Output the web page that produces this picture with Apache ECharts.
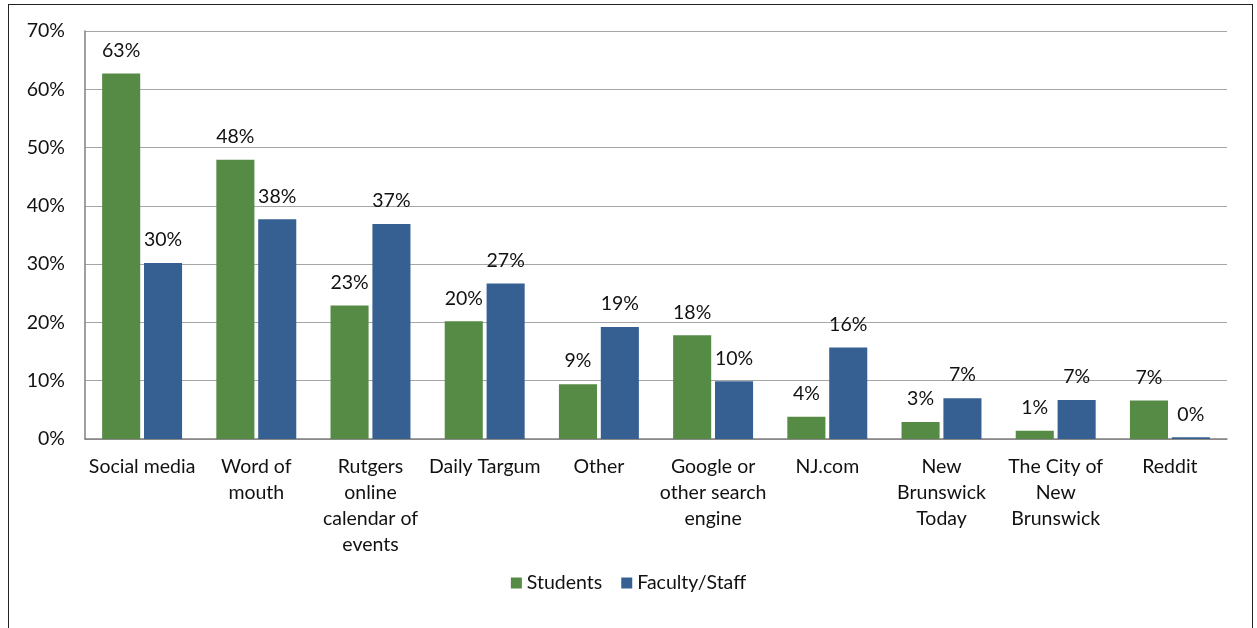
<!DOCTYPE html>
<html>
<head>
<meta charset="utf-8">
<script src="https://cdn.jsdelivr.net/npm/echarts@6/dist/echarts.min.js"></script>
<style>
  html, body { margin: 0; padding: 0; background: #fff; }
  .frame {
    position: absolute;
    left: 8px;
    top: 4px;
    width: 1243px;
    height: 700px;
    border: 1px solid #222;
  }
  #chart {
    position: absolute;
    left: 0;
    top: 0;
    width: 1257px;
    height: 628px;
  }
</style>
</head>
<body>
<div class="frame"></div>
<div id="chart"></div>
<script>
// categories (line breaks as in the original axis labels)
const categories = [
  'Social media',
  'Word of\nmouth',
  'Rutgers\nonline\ncalendar of\nevents',
  'Daily Targum',
  'Other',
  'Google or\nother search\nengine',
  'NJ.com',
  'New\nBrunswick\nToday',
  'The City of\nNew\nBrunswick',
  'Reddit'
]
// percent values
const students = [62.7, 47.9, 22.9, 20.2, 9.4, 17.8, 3.8, 2.9, 1.4, 6.6]
const facultyStaff = [30.2, 37.7, 36.9, 26.7, 19.2, 9.9, 15.7, 7.0, 6.7, 0.3]
const yTicks = { min: 0, max: 70, interval: 10 }

const font = 'Lato, "Liberation Sans", sans-serif'
const fs = 19.5
const myChart = echarts.init(document.getElementById('chart'))

const barLabel = {
  show: true,
  position: 'top',
  distance: 13,
  color: '#111',
  fontFamily: font,
  fontSize: fs,
  formatter: p => Math.round(p.value) + '%'
}

let option = {
  animation: false,
  textStyle: { fontFamily: font },
  grid: {
    left: 85,
    top: 31,
    right: 30,
    bottom: 189,
    containLabel: false
  },
  legend: {
    bottom: 30,
    left: 'center',
    itemWidth: 11,
    itemHeight: 11,
    itemGap: 19,
    icon: 'rect',
    textStyle: { fontFamily: font, fontSize: fs, color: '#111' },
    data: ['Students', 'Faculty/Staff']
  },
  xAxis: {
    type: 'category',
    data: categories,
    axisLine: { lineStyle: { color: '#808080', width: 1.5 } },
    axisTick: { show: false },
    axisLabel: {
      interval: 0,
      margin: 15,
      color: '#111',
      fontFamily: font,
      fontSize: fs,
      lineHeight: 26
    }
  },
  yAxis: {
    type: 'value',
    min: yTicks.min,
    max: yTicks.max,
    interval: yTicks.interval,
    axisLine: { show: true, lineStyle: { color: '#808080', width: 1.5 } },
    axisTick: { show: false },
    splitLine: { lineStyle: { color: '#a6a6a6', width: 1.2 } },
    axisLabel: {
      margin: 20,
      color: '#111',
      fontFamily: font,
      fontSize: fs,
      formatter: v => v + '%'
    }
  },
  series: [
    {
      name: 'Students',
      type: 'bar',
      data: students,
      barGap: '10%',
      barCategoryGap: '30%',
      itemStyle: { color: '#558b44' },
      label: barLabel
    },
    {
      name: 'Faculty/Staff',
      type: 'bar',
      data: facultyStaff,
      itemStyle: { color: '#376092' },
      label: barLabel
    }
  ]
}
myChart.setOption(option)
</script>
</body>
</html>
